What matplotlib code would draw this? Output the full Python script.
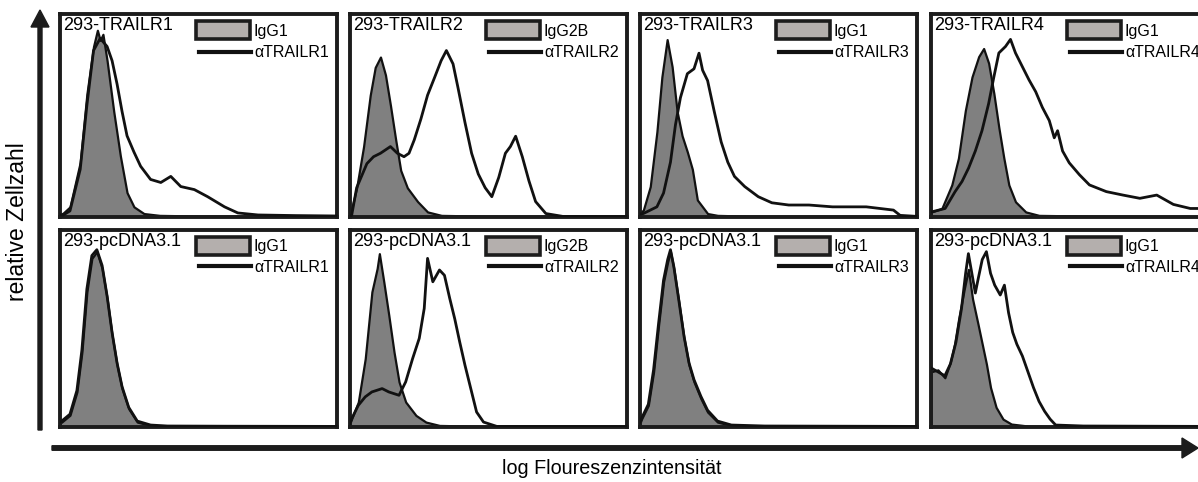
import numpy as np
import matplotlib.pyplot as plt
from matplotlib.patches import Rectangle, FancyArrow

plt.rcParams['font.family'] = ['Liberation Sans', 'DejaVu Sans']

# panel texts
titles = ['293-TRAILR1', '293-TRAILR2', '293-TRAILR3', '293-TRAILR4',
          '293-pcDNA3.1', '293-pcDNA3.1', '293-pcDNA3.1', '293-pcDNA3.1']
iso_labels = ['IgG1', 'IgG2B', 'IgG1', 'IgG1'] * 2
ab_labels = ['αTRAILR1', 'αTRAILR2', 'αTRAILR3', 'αTRAILR4'] * 2

# histograms, x = % of log scale, y = % of panel height
tr1_iso_x = [0, 1.2, 3.6, 7.3, 9.7, 12.1, 13.5, 14.5, 15.5, 17, 19.4, 21.8, 24.2, 26.7, 30.3, 36, 50, 70, 100]
tr1_iso_y = [1, 2, 5, 27, 60.5, 84, 92, 87, 90, 77, 52, 30, 12, 5, 1.7, 0.8, 0.5, 0.4, 0.3]
tr1_ab_x = [0, 1.2, 3.6, 7.3, 9.7, 12.1, 14.5, 17, 18.8, 20.6, 22.4, 24.2, 26.7, 29.1, 32.7, 36.4, 40, 43.6,
            48.5, 53.3, 59.4, 64.2, 71.5, 85, 100]
tr1_ab_y = [1, 1, 3, 23.5, 55, 82, 88, 84, 77, 65.5, 52, 40, 32, 25, 18.5, 17, 20, 15,
            13.5, 10, 5, 2, 1, 0.7, 0.5]

tr2_iso_x = [0, 0.6, 2.4, 4.9, 7.3, 9.1, 11, 12.8, 14.6, 16.5, 18.3, 20.7, 24.4, 28, 33, 50, 100]
tr2_iso_y = [1, 4, 14.4, 34.7, 60, 73.7, 78.8, 70, 55, 38, 23, 14.4, 7.6, 2.5, 0.8, 0.4, 0.3]
tr2_ab_x = [0, 0.6, 2.4, 6.1, 8.5, 11, 14.6, 17.1, 19.5, 21.3, 23.2, 25.6, 28, 30.5, 32.9, 34.8, 37.2,
            39, 41.5, 43.9, 46.3, 48.8, 51.2, 53.7, 56.1, 57.9, 59.8, 62.2, 64.6, 67, 70.7, 76.8, 100]
tr2_ab_y = [0.5, 0.8, 14.4, 26.3, 29.7, 31.4, 34.7, 31.4, 29.7, 31.4, 38, 48.3, 60, 68.6, 77, 82, 75.4,
            63.6, 46.6, 31.4, 21.2, 14.4, 10, 19.5, 31.4, 34.7, 39.8, 29.7, 17.8, 7.6, 1.7, 0.3, 0.2]

tr3_iso_x = [0, 1.2, 3.7, 6.1, 7.9, 9.8, 11.6, 13.4, 15.2, 17.1, 18.9, 20.7, 24.4, 28, 40, 100]
tr3_iso_y = [2, 3.4, 15, 42, 69, 87.4, 74, 52, 40, 32, 23.5, 8.4, 1.7, 0.8, 0.4, 0.3]
tr3_ab_x = [0, 1.2, 6.1, 8.5, 11, 12.8, 14.6, 17.1, 19.5, 21.3, 22.6, 24.4, 26.8, 29.3, 31.7, 34.1,
            37.8, 42.7, 47.6, 53.7, 61, 69.5, 81.7, 91.5, 93.9, 100]
tr3_ab_y = [1.5, 1.7, 5, 11.8, 27, 45.4, 58.8, 70.6, 73, 80.7, 72.3, 67.2, 52, 37, 27, 20,
            15, 10, 7, 5.9, 5.9, 5, 5, 3.4, 0.8, 0.3]

tr4_iso_x = [0, 0.2, 3.9, 7.5, 9.9, 12.4, 14.8, 17.2, 19, 20.8, 22.7, 24.5, 26.3, 28.1, 30.5, 34.2, 39, 60, 100]
tr4_iso_y = [2.5, 2.5, 4.2, 15.8, 29, 52.5, 69, 79, 83, 75.8, 60.8, 44, 29, 15.8, 7.5, 2.5, 0.8, 0.4, 0.3]
tr4_ab_x = [0, 0.2, 5.1, 8.7, 11.2, 13.6, 16, 18.4, 20.8, 22.7, 24.5, 26.9, 28.7, 30.5, 33, 35.4,
            37.8, 40.2, 42.7, 44.5, 45.7, 47.5, 49.9, 53.6, 57.2, 63.3, 69.3, 75.4, 81.5, 87.5, 93.6, 100]
tr4_ab_y = [2.5, 2.5, 4.2, 12.5, 17.5, 24.2, 32.5, 42.5, 55.8, 69, 80.8, 84, 87.5, 80.8, 74, 67.5,
            61.7, 54, 47.5, 39, 42.5, 32.5, 26.7, 20.8, 15.8, 12.5, 10.8, 9.2, 10.8, 6.2, 4.2, 4.2]

pc1_iso_x = [0, 0.6, 3.6, 6.1, 7.9, 9.7, 11.5, 13.3, 15.2, 17, 18.8, 20.6, 22.4, 24.8, 27.9, 32.7, 38.8, 60, 100]
pc1_iso_y = [2, 2.5, 6, 17.8, 38, 68.6, 85.6, 89, 80.5, 65.3, 46.6, 31.4, 19.5, 9.3, 2.5, 0.8, 0.3, 0.3, 0.3]
pc1_ab_x = pc1_iso_x
pc1_ab_y = [2.5, 3, 6.5, 18.5, 39, 70, 87, 90, 82, 66.5, 48, 32.5, 20.5, 10, 3, 1, 0.5, 0.4, 0.3]

pc2_iso_x = [0, 0.6, 3, 5.5, 7.9, 9.8, 10.6, 12.2, 14, 15.9, 17.7, 20.1, 23.8, 27.4, 32.3, 50, 100]
pc2_iso_y = [2, 4.2, 12.7, 34.7, 68.6, 80.5, 88, 73.7, 56.8, 38, 22.9, 12.7, 5.9, 2.5, 0.8, 0.3, 0.3]
pc2_ab_x = [0, 0.6, 3, 5.5, 7.9, 11.6, 14, 17.7, 20.1, 22.6, 25, 26.8, 28, 29.9, 32.3, 34.1, 36,
            37.8, 39.6, 41.5, 43.3, 45.7, 48.2, 53, 100]
pc2_ab_y = [2, 4.2, 11, 15.3, 17.8, 19.5, 17.8, 16.1, 22.9, 34.7, 45, 60.2, 85.6, 73.7, 79.7, 77, 65.3,
            55, 43.2, 31.4, 21.2, 7.6, 2.5, 0.3, 0.2]

pc3_iso_x = [0, 0.6, 3, 4.9, 6.7, 8.5, 10, 11, 12.2, 14, 15.9, 17.7, 19.5, 22, 24.4, 28, 33, 45, 100]
pc3_iso_y = [2, 4.2, 11, 28, 51.7, 73.7, 83.9, 89, 80.5, 63.6, 45, 31.4, 22.9, 14.4, 7.6, 2.5, 0.8, 0.3, 0.3]
pc3_ab_x = pc3_iso_x
pc3_ab_y = [2.5, 4.5, 11.5, 29, 52.5, 74.5, 85, 90, 81.5, 64.5, 46, 32.5, 24, 15.5, 8.5, 3, 1, 0.5, 0.3]

pc4_iso_x = [0, 2.5, 5, 7, 8.5, 10, 12, 13.5, 15, 17, 18.5, 20, 21.5, 23.5, 26, 29, 35, 45, 100]
pc4_iso_y = [28, 29, 25, 33, 42, 55, 70, 80, 65, 52, 42, 32, 20, 10, 4, 1.5, 0.5, 0.3, 0.3]
pc4_ab_x = [0, 2.5, 5, 7, 9, 11, 12.5, 13.5, 14.5, 16, 17, 18.5, 20, 21.5, 23, 25, 26.5, 28, 29.5,
            31, 33, 35, 37, 39, 41, 43, 45, 55, 100]
pc4_ab_y = [30, 28, 26, 32, 43, 60, 78, 88, 80, 68, 75, 85, 89, 78, 72, 67, 72, 58, 48,
            42, 36, 28, 20, 13, 8, 4, 1, 0.5, 0.3]

iso_x = [tr1_iso_x, tr2_iso_x, tr3_iso_x, tr4_iso_x, pc1_iso_x, pc2_iso_x, pc3_iso_x, pc4_iso_x]
iso_y = [tr1_iso_y, tr2_iso_y, tr3_iso_y, tr4_iso_y, pc1_iso_y, pc2_iso_y, pc3_iso_y, pc4_iso_y]
ab_x = [tr1_ab_x, tr2_ab_x, tr3_ab_x, tr4_ab_x, pc1_ab_x, pc2_ab_x, pc3_ab_x, pc4_ab_x]
ab_y = [tr1_ab_y, tr2_ab_y, tr3_ab_y, tr4_ab_y, pc1_ab_y, pc2_ab_y, pc3_ab_y, pc4_ab_y]

W, H = 1198, 482
dark = '#1c1c1c'
fig = plt.figure(figsize=(W / 100, H / 100), dpi=100)

# background axes in pixel units for the two big arrows
bg = fig.add_axes([0, 0, 1, 1])
bg.set_xlim(0, W)
bg.set_ylim(H, 0)
bg.axis('off')
bg.add_patch(FancyArrow(40, 430, 0, -420, width=4, head_width=18, head_length=17,
                        length_includes_head=True, color=dark))
bg.add_patch(FancyArrow(52, 448, 1146, 0, width=4.5, head_width=20, head_length=16,
                        length_includes_head=True, color=dark))
bg.text(18, 222, 'relative Zellzahl', rotation=90, ha='center', va='center', fontsize=16.5)
bg.text(612, 468, 'log Floureszenzintensität', ha='center', va='center', fontsize=14.2)

col_left = [60, 350, 640, 931]
row_top = [14, 230]
row_h = [203, 197]
pw = 277

for i in range(8):
    r, c = divmod(i, 4)
    ax = fig.add_axes([col_left[c] / W, 1 - (row_top[r] + row_h[r]) / H, pw / W, row_h[r] / H])
    ax.fill_between(iso_x[i], iso_y[i], 0, facecolor='#808080', edgecolor='#111111', lw=1.6, zorder=2)
    ax.plot(ab_x[i], ab_y[i], color='#111111', lw=2, zorder=3)
    ax.set_xlim(0, 100)
    ax.set_ylim(0, 100)
    ax.set_xticks([])
    ax.set_yticks([])
    for s in ax.spines.values():
        s.set_linewidth(2.8)
        s.set_color(dark)
    ax.text(1.2, 98.5, titles[i], va='top', ha='left', fontsize=13)
    # hand made legend
    ax.add_patch(Rectangle((49, 87.5), 19.5, 9, facecolor='#b4afad', edgecolor=dark, lw=2.6, zorder=4))
    ax.text(70, 91.5, iso_labels[i], va='center', ha='left', fontsize=11.5)
    ax.plot([50, 69], [81.5, 81.5], color='#111111', lw=3, zorder=4)
    ax.text(70, 81, ab_labels[i], va='center', ha='left', fontsize=11.5)

fig.savefig('out.png', dpi=100)
